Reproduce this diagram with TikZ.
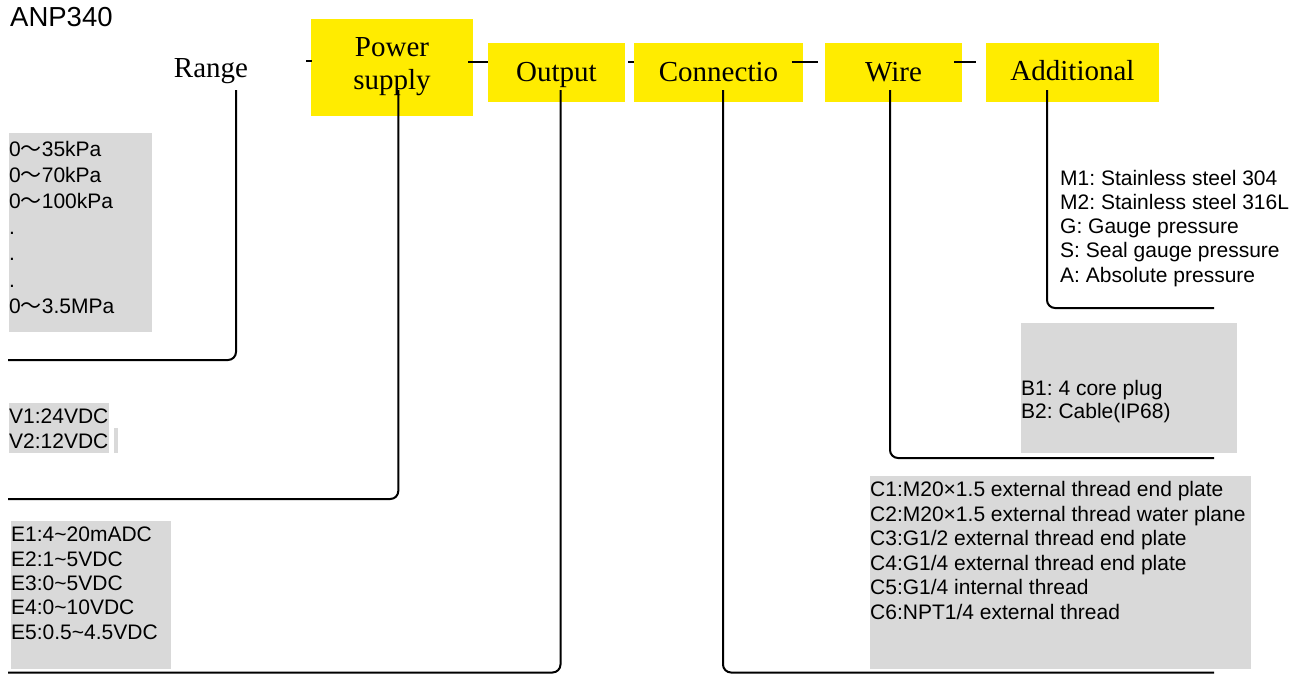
\documentclass[tikz,border=0pt]{standalone}
\usepackage{fontspec}
\setmainfont{Liberation Serif}
\setsansfont{Liberation Sans}
\newfontfamily\cjk{Noto Sans CJK SC}
\newcommand{\wtilde}{{\cjk ～}}
\definecolor{ybox}{RGB}{255,236,0}
\definecolor{gbox}{RGB}{217,217,217}
\frenchspacing
\begin{document}
\begin{tikzpicture}[x=1pt,y=-1pt,
  lbl/.style={font=\fontsize{29}{32.6}\selectfont, inner sep=0pt, anchor=base},
  ybx/.style={fill=ybox, draw=none, inner sep=0pt},
  txt/.style={font=\sffamily\fontsize{21}{24.5}\selectfont\frenchspacing, inner sep=0pt, anchor=base west},
  conn/.style={line width=2pt, rounded corners=8pt},
  dsh/.style={line width=2pt}]
\useasboundingbox (0,0) rectangle (1310,675);

% gray panels
\fill[gbox] (9,133) rectangle (152,332);
\fill[gbox] (9,403) rectangle (109,453);
\fill[gbox] (114,428) rectangle (117.7,453);
\fill[gbox] (11,521) rectangle (171,669);
\fill[gbox] (1021,323) rectangle (1237,453);
\fill[gbox] (870,476) rectangle (1251,669);

% yellow boxes
\node[ybx, minimum width=162pt, minimum height=97pt] (pwbox) at (392,67.5) {};
\node[ybx, minimum width=137pt, minimum height=59pt] (outbox) at (556.5,72.5) {};
\node[ybx, minimum width=169pt, minimum height=59pt] (conbox) at (718.5,72.5) {};
\node[ybx, minimum width=137pt, minimum height=59pt] (wirbox) at (893.5,72.5) {};
\node[ybx, minimum width=173pt, minimum height=59pt] (addbox) at (1072.5,72.5) {};

% header labels
\node[font=\sffamily\fontsize{27.5}{30}\selectfont, inner sep=0pt, anchor=base west] (title) at (10,26.7) {ANP340};
\node[lbl] (range) at (211,77.3) {Range};
\node[lbl] (power) at (392,56.7) {Power};
\node[lbl] (supply) at (392,89.3) {supply};
\node[lbl] (output) at (556.5,81.5) {Output};
\node[lbl] (connectio) at (718.5,81.5) {Connectio};
\node[lbl] (wire) at (893.5,81.5) {Wire};
\node[lbl] (additional) at (1072.5,80.5) {Additional};

% option texts
\foreach \t [count=\i from 0] in {{0\wtilde 35kPa},{0\wtilde 70kPa},{0\wtilde 100kPa},{.},{.},{.},{0\wtilde 3.5MPa}}
  \node[txt] (rg\i) at (9,156+26.2*\i) {\t};
\foreach \t [count=\i from 0] in {{V1:24VDC},{V2:12VDC}}
  \node[txt] (v\i) at (9,423+25*\i) {\t};
\foreach \t [count=\i from 0] in {{E1:4\textasciitilde 20mADC},{E2:1\textasciitilde 5VDC},{E3:0\textasciitilde 5VDC},{E4:0\textasciitilde 10VDC},{E5:0.5\textasciitilde 4.5VDC}}
  \node[txt] (e\i) at (11,541.7+24.4*\i) {\t};
\foreach \t [count=\i from 0] in {{B1: 4 core plug},{B2: Cable(IP68)}}
  \node[txt] (b\i) at (1021,395+23.5*\i) {\t};
\foreach \t [count=\i from 0] in {{C1:M20×1.5 external thread end plate},{C2:M20×1.5 external thread water plane},{C3:G1/2 external thread end plate},{C4:G1/4 external thread end plate},{C5:G1/4 internal thread},{C6:NPT1/4 external thread}}
  \node[txt] (c\i) at (870,496.7+24.5*\i) {\t};
\foreach \t [count=\i from 0] in {{M1: Stainless steel 304},{M2: Stainless steel 316L},{G: Gauge pressure},{S: Seal gauge pressure},{A: Absolute pressure}}
  \node[txt] (m\i) at (1060,185+24.3*\i) {\t};

% connector end points
\coordinate (rgA) at (236,90);    \coordinate (rgB) at (8,360);
\coordinate (pwA) at (398.3,90);  \coordinate (pwB) at (8,499);
\coordinate (ouA) at (560.5,90);  \coordinate (ouB) at (8,672.5);
\coordinate (coA) at (723,90);    \coordinate (coB) at (1214,672.5);
\coordinate (wiA) at (890,90);    \coordinate (wiB) at (1214,458);
\coordinate (adA) at (1047,90);   \coordinate (adB) at (1214,308);

\draw[conn] (rgA) |- (rgB);
\draw[conn] (pwA) |- (pwB);
\draw[conn] (ouA) |- (ouB);
\draw[conn] (coA) |- (coB);
\draw[conn] (wiA) |- (wiB);
\draw[conn] (adA) |- (adB);

% short dashes between headers
\coordinate (d1a) at (306,61.3);   \coordinate (d1b) at (311.7,61.3);
\coordinate (d2a) at (468,62);     \coordinate (d2b) at (488,62);
\coordinate (d3a) at (628.3,62);   \coordinate (d3b) at (634,62);
\coordinate (d4a) at (791.7,62);   \coordinate (d4b) at (818.3,62);
\coordinate (d5a) at (954,62);     \coordinate (d5b) at (976,62);
\draw[dsh] (d1a) -- (d1b);
\draw[dsh] (d2a) -- (d2b);
\draw[dsh] (d3a) -- (d3b);
\draw[dsh] (d4a) -- (d4b);
\draw[dsh] (d5a) -- (d5b);
\end{tikzpicture}
\end{document}
